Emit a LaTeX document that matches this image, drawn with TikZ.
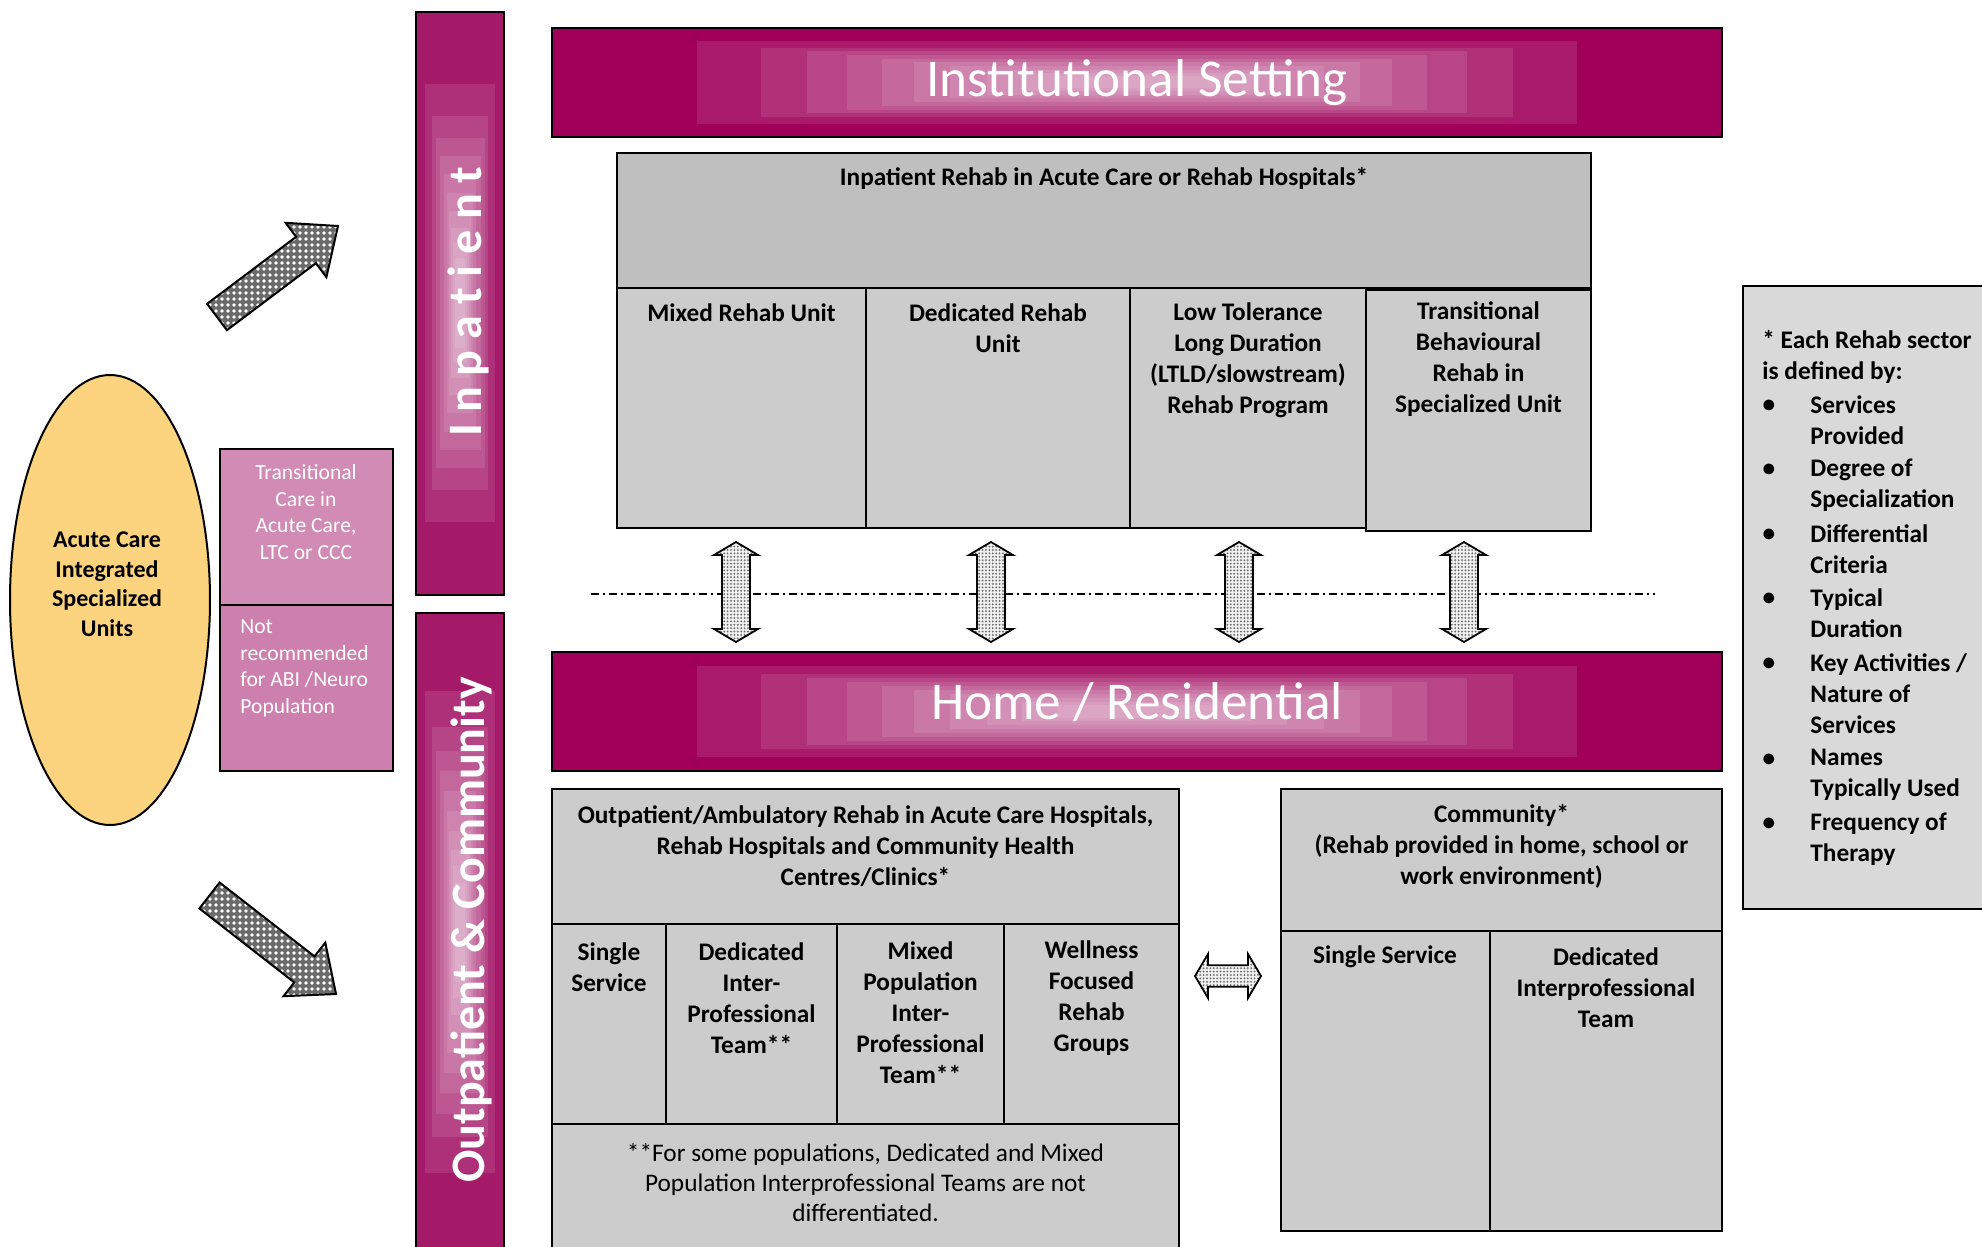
\documentclass[tikz,border=0pt]{standalone}
\usepackage{fontspec}
\setmainfont{Carlito}
\usetikzlibrary{patterns}
\definecolor{banner}{RGB}{160,0,90}
\definecolor{barcol}{RGB}{165,25,105}
\definecolor{pinkA}{RGB}{210,139,180}
\definecolor{pinkB}{RGB}{205,128,173}
\definecolor{ellfill}{RGB}{252,211,127}
\definecolor{hdrgray}{RGB}{191,191,191}
\definecolor{colgray}{RGB}{204,204,204}
\definecolor{leggray}{RGB}{217,217,217}
\pgfdeclarepatternformonly{fdots}{\pgfqpoint{-1pt}{-1pt}}{\pgfqpoint{1pt}{1pt}}{\pgfqpoint{1.7pt}{1.7pt}}{\pgfpathcircle{\pgfqpoint{0pt}{0pt}}{0.5pt}\pgfusepath{fill}}
\pgfdeclarepatternformonly{wdots}{\pgfqpoint{-2pt}{-2pt}}{\pgfqpoint{2pt}{2pt}}{\pgfqpoint{3pt}{3pt}}{\pgfpathcircle{\pgfqpoint{0pt}{0pt}}{0.95pt}\pgfusepath{fill}}
\newcommand\hglow[3]{%
  \foreach \w/\h in {440/41.5,376/34.5,330/31,290/27.5,255/23.5,223/20,187/16,150/12.5,115/9,80/6}{%
    \fill[white,opacity=0.1] ({#1-\w},{#2-\h*#3}) rectangle ({#1+\w},{#2+\h*#3});}}
\newcommand\vglow[3]{%
  \foreach \w/\h in {35/219,28/186.5,24.5/165,20.5/146.5,16/128.5,13/110,11/92,9/75,7/60,5/45}{%
    \fill[white,opacity=0.1] ({#1-\w},{#2-\h*#3}) rectangle ({#1+\w},{#2+\h*#3});}}
\tikzset{
  box/.style={draw=black,line width=1pt},
  txt/.style={font=\fontsize{12.65}{15.5}\selectfont\bfseries,align=center,inner sep=0pt},
  txtr/.style={font=\fontsize{12.65}{15}\selectfont,align=center,inner sep=0pt},
  elltxt/.style={font=\fontsize{12}{14.75}\selectfont\bfseries,align=center,inner sep=0pt},
  pinktxt/.style={font=\fontsize{10.8}{13.25}\selectfont,text=white,align=center,inner sep=0pt},
  title/.style={font=\fontsize{26.6}{32}\selectfont,text=white,anchor=base,inner sep=0pt},
  bartitle/.style={font=\fontsize{24}{29}\selectfont\bfseries,text=white,rotate=90,anchor=base,inner sep=0pt},
  varrow/.style={draw=black,line width=0.9pt,preaction={fill=gray!12},pattern=fdots,pattern color=black!60},
  darrow/.style={draw=black,line width=1pt,preaction={fill=black!58},pattern=wdots,pattern color=white},
}
\begin{document}
\begin{tikzpicture}[x=0.5pt,y=-0.5pt]
\useasboundingbox (0,0) rectangle (1982,1247);
\clip (0,0) rectangle (1982,1247);

% ellipse
\draw[line width=1pt,fill=ellfill] (110,600) ellipse [x radius=100,y radius=225];
\node[elltxt] (acute) at (107,584) {Acute Care\\Integrated\\Specialized\\Units};

% pink boxes
\draw[line width=1pt,fill=pinkA] (220,449) rectangle (393,605);
\draw[line width=1pt,fill=pinkB] (220,605) rectangle (393,771);
\node[pinktxt] (trans) at (306,512) {Transitional\\Care in\\Acute Care,\\LTC or CCC};
\node[pinktxt,align=left,anchor=west] (notrec) at (240,668.5) {Not\\recommended\\for ABI /Neuro\\Population};

% vertical bars
\fill[barcol] (416,12) rectangle (504,595);
\vglow{460}{303}{1}
\draw[line width=0.8pt] (416,12) rectangle (504,595);
\fill[barcol] (416,613) rectangle (504,1260);
\vglow{460}{932}{1.1}
\draw[line width=0.8pt] (416,613) rectangle (504,1260);
\node[bartitle] (inpt) at (481,301.5) {I n p a t i e n t};
\node[bartitle] (outpt) at (484,930) {Outpatient \& Community};

% banners
\fill[banner] (552,28) rectangle (1722,137);
\hglow{1137}{82.5}{1}
\draw[line width=0.6pt] (552,28) rectangle (1722,137);
\node[title] (inst) at (1137,97) {Institutional Setting};
\fill[banner] (552,652) rectangle (1722,771);
\hglow{1137}{711.5}{1.09}
\draw[line width=0.6pt] (552,652) rectangle (1722,771);
\node[title] (home) at (1137,719) {Home / Residential};

% inpatient box
\draw[box,fill=hdrgray] (617,153) rectangle (1591,288);
\draw[box,fill=colgray] (617,288) rectangle (866,528);
\draw[box,fill=colgray] (866,288) rectangle (1130,528);
\draw[box,fill=colgray] (1130,288) rectangle (1366,528);
\draw[box,fill=colgray] (1366,290) rectangle (1591,531);
\node[txt] (inhdr) at (1104,178) {Inpatient Rehab in Acute Care or Rehab Hospitals*};
\node[txt] (mixed) at (741.5,313) {Mixed Rehab Unit};
\node[txt] (dedic) at (998,328.5) {Dedicated Rehab\\Unit};
\node[txt] (ltld) at (1248,359.8) {Low Tolerance\\Long Duration\\(LTLD/slowstream)\\Rehab Program};
\node[txt] (tbr) at (1478.5,358.6) {Transitional\\Behavioural\\Rehab in\\Specialized Unit};

% dash-dot separator
\draw[line width=0.7pt,dash pattern=on 4pt off 2pt on 1pt off 2pt] (591,594) -- (1655,594);

% vertical double arrows
\foreach \cx in {736,991,1239,1464}{
  \draw[varrow] (\cx,542) -- ({\cx+22},555) -- ({\cx+14},555) -- ({\cx+14},629) -- ({\cx+22},629)
    -- (\cx,642) -- ({\cx-22},629) -- ({\cx-14},629) -- ({\cx-14},555) -- ({\cx-22},555) -- cycle;}

% outpatient box
\draw[box,fill=colgray] (552,789) rectangle (1179,924);
\draw[box,fill=colgray] (552,924) rectangle (666,1124);
\draw[box,fill=colgray] (666,924) rectangle (837,1124);
\draw[box,fill=colgray] (837,924) rectangle (1004,1124);
\draw[box,fill=colgray] (1004,924) rectangle (1179,1124);
\draw[box,fill=colgray] (552,1124) rectangle (1179,1262);
\node[txt] (outhdr) at (865.5,846.5) {Outpatient/Ambulatory Rehab in Acute Care Hospitals,\\Rehab Hospitals and Community Health\\Centres/Clinics*};
\node[txt] (single1) at (609,967) {Single\\Service};
\node[txt] (dipt) at (751.5,998.5) {Dedicated\\Inter-\\Professional\\Team**};
\node[txt] (mpipt) at (920.5,1013) {Mixed\\Population\\Inter-\\Professional\\Team**};
\node[txt] (wellness) at (1091.5,998.5) {Wellness\\Focused\\Rehab\\Groups};
\node[txtr] (footnote) at (865.5,1183) {**For some populations, Dedicated and Mixed\\Population Interprofessional Teams are not\\differentiated.};

% horizontal double arrow
\draw[varrow] (1195,976) -- (1208,954) -- (1208,965.3) -- (1248,965.3) -- (1248,954) -- (1261,976)
  -- (1248,998) -- (1248,986.7) -- (1208,986.7) -- (1208,998) -- cycle;

% community box
\draw[box,fill=colgray] (1281,789) rectangle (1722,931);
\draw[box,fill=colgray] (1281,931) rectangle (1489.5,1231);
\draw[box,fill=colgray] (1489.5,931) rectangle (1722,1231);
\node[txt] (commhdr) at (1501.5,846) {Community*\\(Rehab provided in home, school or\\work environment)};
\node[txt] (single2) at (1385,957) {Single Service};
\node[txt] (dipt2) at (1606,988) {Dedicated\\Interprofessional\\Team};

% legend
\draw[box,fill=leggray] (1743,286) rectangle (2000,909);
\node[txt,align=left,anchor=west] (leghdr) at (1762,356.5) {* Each Rehab sector\\is defined by:};
\foreach \y/\t [count=\i] in {406/{Services\\Provided},470/{Degree of\\Specialization},535/{Differential\\Criteria},599/{Typical\\Duration},664/{Key Activities /\\Nature of\\Services},760/{Names\\Typically Used},824/{Frequency of\\Therapy}}{
  \node[txt] (bul\i) at (1769,\y) {•};
  \node[txt,align=left,anchor=north west] (item\i) at (1810,{\y-11}) {\t};
}

% diagonal arrows
\draw[darrow] (226.9,330.2) -- (315.9,263.2) -- (326.4,277.2) -- (338,226) -- (285.6,222.8) -- (296.1,236.8) -- (207.1,303.8) -- cycle;
\draw[darrow] (199.4,908.5) -- (294.3,982.4) -- (283.5,996.2) -- (336,994) -- (325.3,942.6) -- (314.5,956.4) -- (219.6,882.5) -- cycle;
\end{tikzpicture}
\end{document}
